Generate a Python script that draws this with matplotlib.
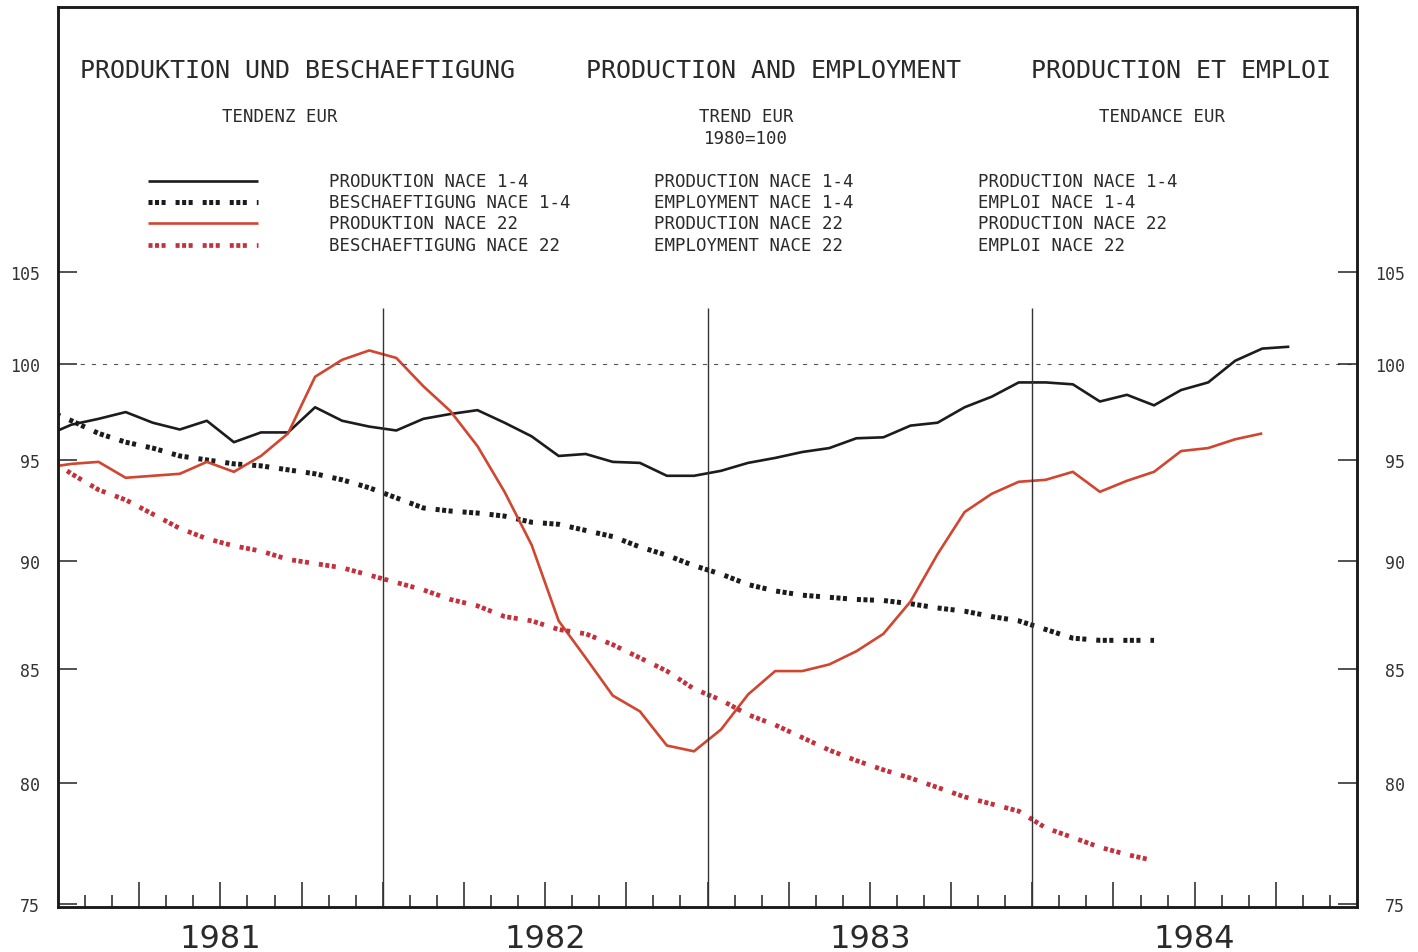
import matplotlib
matplotlib.use("Agg")
import matplotlib.pyplot as plt
from matplotlib.ticker import FixedLocator, NullLocator
from matplotlib.transforms import blended_transform_factory

plt.rcParams["lines.scale_dashes"] = False

# monthly trend values, first value = Dec 1980, then Jan 1981 onwards
prod_14 = [96.2, 96.8, 97.1, 97.45, 96.9, 96.55, 97.0, 95.9, 96.4, 96.4, 97.7, 97.0,
           96.7, 96.5, 97.1, 97.35, 97.55, 96.9, 96.2, 95.2, 95.3, 94.9, 94.85, 94.2,
           94.2, 94.45, 94.85, 95.1, 95.4, 95.6, 96.1, 96.15, 96.75, 96.9, 97.7, 98.25,
           99.0, 99.0, 98.9, 98.0, 98.35, 97.8, 98.6, 99.0, 100.15, 100.8, 100.9]
empl_14 = [97.6, 97.0, 96.35, 95.9, 95.6, 95.2, 95.0, 94.8, 94.7, 94.5, 94.3, 94.0,
           93.6, 93.1, 92.6, 92.45, 92.35, 92.2, 91.9, 91.8, 91.5, 91.2, 90.7, 90.3,
           89.8, 89.4, 88.9, 88.6, 88.4, 88.3, 88.2, 88.15, 88.0, 87.8, 87.65, 87.4,
           87.2, 86.8, 86.4, 86.3, 86.3, 86.3]
prod_22 = [94.6, 94.8, 94.9, 94.1, 94.2, 94.3, 94.9, 94.4, 95.2, 96.35, 99.3, 100.2,
           100.7, 100.3, 98.8, 97.5, 95.7, 93.4, 90.8, 87.2, 85.5, 83.8, 83.1, 81.6,
           81.35, 82.3, 83.85, 84.9, 84.9, 85.2, 85.8, 86.6, 88.1, 90.35, 92.4, 93.3,
           93.9, 94.0, 94.4, 93.4, 93.95, 94.4, 95.45, 95.6, 96.05, 96.35]
empl_22 = [95.2, 94.3, 93.5, 93.0, 92.3, 91.6, 91.1, 90.75, 90.5, 90.1, 89.9, 89.7,
           89.35, 89.0, 88.65, 88.2, 87.9, 87.4, 87.2, 86.8, 86.6, 86.1, 85.5, 84.9,
           84.1, 83.6, 82.95, 82.5, 81.95, 81.4, 80.95, 80.55, 80.2, 79.8, 79.4, 79.1,
           78.8, 78.1, 77.7, 77.3, 77.0, 76.75]
first_month = -1  # Dec 1980, months counted from Jan 1981 = 0
years = ["1981", "1982", "1983", "1984"]
y_ticks = [75, 80, 85, 90, 95, 100, 105]

titles = ["PRODUKTION UND BESCHAEFTIGUNG", "PRODUCTION AND EMPLOYMENT", "PRODUCTION ET EMPLOI"]
subtitles = ["TENDENZ EUR", "TREND EUR\n1980=100", "TENDANCE EUR"]
labels_de = ["PRODUKTION NACE 1-4", "BESCHAEFTIGUNG NACE 1-4", "PRODUKTION NACE 22", "BESCHAEFTIGUNG NACE 22"]
labels_en = ["PRODUCTION NACE 1-4", "EMPLOYMENT NACE 1-4", "PRODUCTION NACE 22", "EMPLOYMENT NACE 22"]
labels_fr = ["PRODUCTION NACE 1-4", "EMPLOI NACE 1-4", "PRODUCTION NACE 22", "EMPLOI NACE 22"]

BLACK = "#1c1c1c"
RED = "#d2452f"
RED_DOT = "#c4303c"
TXT = "#2a2a2a"
MONO = "DejaVu Sans Mono"
dots = (0, (2.9, 1.8, 2.9, 1.8, 2.9, 7.2))

W, H = 1418, 953
fig = plt.figure(figsize=(W / 100, H / 100), dpi=100)
fig.patch.set_facecolor("white")
ax = fig.add_axes([58 / W, 45 / H, 1299 / W, 900 / H])


def fx(px):
    return px / W


def fy(py):
    return 1 - py / H


def months(series):
    return [first_month + i + 0.5 for i in range(len(series))]


styles = [
    (prod_14, dict(color=BLACK, lw=1.9)),
    (empl_14, dict(color=BLACK, lw=3.6, linestyle=dots)),
    (prod_22, dict(color=RED, lw=1.9)),
    (empl_22, dict(color=RED_DOT, lw=3.4, linestyle=dots)),
]
for vals, kw in styles:
    ax.plot(months(vals), vals, solid_capstyle="butt", **kw)

ax.set_yscale("log")
ax.set_xlim(0, 48)
ax.set_ylim(74.88, 120.9)

# reference line and year separators
ax.axhline(100, color="#555555", lw=0.8, linestyle=(0, (3, 5)))
ax.vlines([12, 24, 36], 74.88, 103, color="#333333", lw=1.0)

# x ticks: months (short) and quarters (long)
ax.xaxis.set_major_locator(FixedLocator([q for q in range(3, 48, 3)]))
ax.xaxis.set_minor_locator(FixedLocator(list(range(1, 48))))
ax.tick_params(axis="x", which="major", direction="in", length=18, width=1.1,
               color="#222222", labelbottom=False)
ax.tick_params(axis="x", which="minor", direction="in", length=8.5, width=1.1,
               color="#222222")

xt = blended_transform_factory(ax.transData, ax.transAxes)
for i, yr in enumerate(years):
    ax.text(12 * i + 6, -32 / 900, yr, transform=xt, ha="center", va="center",
            fontsize=23, family="DejaVu Sans", color=TXT)

# y ticks both sides
ax.yaxis.set_major_locator(FixedLocator(y_ticks))
ax.yaxis.set_minor_locator(NullLocator())
ax.set_yticklabels([str(v) for v in y_ticks])
ax.tick_params(axis="y", which="major", direction="in", length=14, width=1.1,
               color="#222222", pad=13, labelsize=12, labelcolor="#333333")
for t in ax.get_yticklabels():
    t.set_family(MONO)

ax2 = ax.twinx()
ax2.set_yscale("log")
ax2.set_ylim(ax.get_ylim())
ax2.yaxis.set_major_locator(FixedLocator(y_ticks))
ax2.yaxis.set_minor_locator(NullLocator())
ax2.set_yticklabels([str(v) for v in y_ticks])
ax2.tick_params(axis="y", which="major", direction="in", length=14, width=1.1,
                color="#222222", pad=34.5, labelsize=12, labelcolor="#333333")
for t in ax2.get_yticklabels():
    t.set_family(MONO)
    t.set_horizontalalignment("right")

for a in (ax, ax2):
    for s in a.spines.values():
        s.set_linewidth(1.8)
        s.set_color("#1a1a1a")

# titles
for x, t in zip([80, 586, 1031], titles):
    fig.text(fx(x), fy(71), t, ha="left", va="center", fontsize=18, family=MONO, color=TXT)

fig.text(fx(280), fy(117), subtitles[0], ha="center", va="center", fontsize=12.5, family=MONO, color=TXT)
fig.text(fx(746), fy(128), subtitles[1], ha="center", va="center", fontsize=12.5, family=MONO,
         color=TXT, linespacing=1.35)
fig.text(fx(1162), fy(117), subtitles[2], ha="center", va="center", fontsize=12.5, family=MONO, color=TXT)

# legend block
rows = [182, 203, 224, 246]
for r, (vals, kw), de, en, fr in zip(rows, styles, labels_de, labels_en, labels_fr):
    ax.plot([fx(148), fx(258)], [fy(r), fy(r)], transform=fig.transFigure, clip_on=False,
            solid_capstyle="butt", **kw)
    for x, lab in zip([329, 654, 978], [de, en, fr]):
        fig.text(fx(x), fy(r), lab, ha="left", va="center", fontsize=12.5, family=MONO, color=TXT)

fig.savefig("out.png", dpi=100)
